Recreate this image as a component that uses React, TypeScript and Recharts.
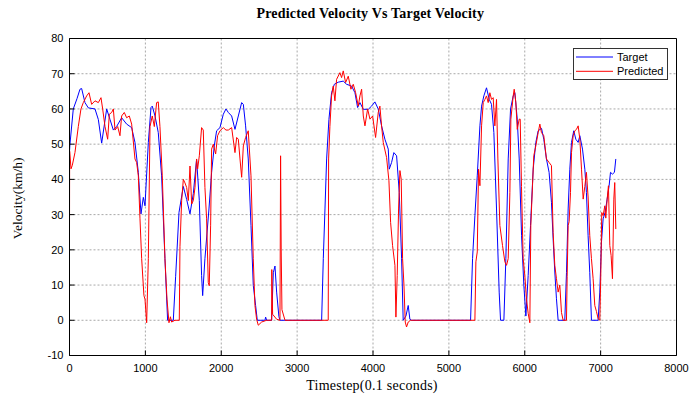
import React from 'react';
import { LineChart, Line, XAxis, YAxis, CartesianGrid, Legend } from 'recharts';

const targetT = [0, 6, 50, 100, 138, 160, 204, 248, 336, 380, 424, 490, 534, 578, 621, 687, 753, 819, 863, 907, 942, 973, 995, 1039, 1074, 1091, 1127, 1170, 1214, 1258, 1293, 1368, 1399, 1443, 1500, 1544, 1588, 1632, 1675, 1711, 1741, 1755, 1785, 1838, 1873, 1908, 1939, 1983, 2027, 2062, 2093, 2137, 2181, 2225, 2269, 2291, 2321, 2356, 2392, 2422, 2453, 2475, 2576, 2585, 2598, 2664, 2686, 2708, 2730, 2760, 2774, 3323, 3345, 3367, 3389, 3419, 3454, 3490, 3542, 3608, 3652, 3718, 3762, 3797, 3828, 3872, 3938, 3981, 4025, 4069, 4113, 4157, 4201, 4214, 4245, 4275, 4311, 4346, 4377, 4398, 4434, 4464, 4486, 4508, 5286, 5312, 5343, 5374, 5409, 5431, 5461, 5496, 5532, 5562, 5593, 5628, 5663, 5681, 5725, 5751, 5782, 5813, 5848, 5870, 5901, 5927, 5958, 5988, 6015, 6045, 6076, 6111, 6146, 6177, 6221, 6251, 6286, 6321, 6352, 6374, 6396, 6418, 6440, 6528, 6550, 6572, 6594, 6616, 6646, 6673, 6704, 6726, 6761, 6792, 6813, 6835, 6857, 6879, 6967, 6989, 7011, 7033, 7059, 7086, 7112, 7130, 7156, 7182, 7200];
const targetV = [48, 50, 60, 63, 65.6, 65.8, 61.8, 60.3, 60, 57, 50.3, 60, 57, 54, 55, 57.5, 55.7, 54.7, 50.5, 42, 30.2, 34.9, 32.5, 50.5, 60.4, 60.8, 58, 53.3, 41, 17.5, 0, 0, 12.5, 30.6, 38, 34.3, 30.2, 36, 45.7, 34, 12.7, 7, 17.5, 31.6, 42, 49.5, 53.8, 54.7, 58.5, 60, 59, 58, 54.2, 58, 61.8, 61.3, 55.2, 45.8, 26.9, 9.9, 4.2, 0, 0, 0.9, 0, 0, 13.5, 15.4, 8, 1, 0, 0, 17.5, 31.6, 45.8, 57, 64.6, 67, 67.6, 67.9, 67, 66.5, 64.6, 60.4, 61.8, 59.9, 59.9, 60.8, 62, 60, 55.2, 51.4, 48.6, 42.9, 44.8, 47.6, 46.7, 36.3, 17.5, 0, 1.2, 4.2, 0.3, 0, 0, 17.5, 29.7, 41, 55.2, 60.8, 63.7, 66, 62.7, 61.3, 53.3, 31.6, 8, 0, 0, 17.5, 45.8, 60, 63.7, 64.6, 57.1, 45.8, 24, 10, 1.2, 12.7, 26.9, 42.9, 50.5, 53.8, 54.5, 51.4, 45.8, 42, 33.5, 23.1, 13.7, 6.1, 0, 0, 13.5, 31.6, 42.9, 50.5, 53.8, 51.4, 50.5, 52.4, 48.6, 42.9, 36.3, 24, 13.5, 0, 0, 8, 22.2, 28.8, 30.6, 34.4, 38.2, 42, 41.5, 42, 45.8];

const predT = [0, 2, 20, 37, 72, 116, 151, 182, 226, 257, 292, 336, 380, 415, 437, 468, 503, 525, 556, 578, 600, 635, 665, 687, 722, 753, 788, 819, 863, 885, 907, 929, 951, 981, 995, 1017, 1039, 1061, 1091, 1118, 1148, 1170, 1192, 1223, 1258, 1285, 1311, 1330, 1346, 1390, 1447, 1456, 1478, 1500, 1522, 1544, 1566, 1588, 1610, 1632, 1654, 1675, 1689, 1711, 1741, 1763, 1785, 1807, 1829, 1842, 1860, 1873, 1895, 1926, 1952, 1983, 2027, 2062, 2093, 2137, 2181, 2203, 2225, 2247, 2269, 2291, 2321, 2356, 2392, 2422, 2444, 2466, 2488, 2532, 2598, 2664, 2666, 2677, 2730, 2774, 2782, 2790, 2800, 2840, 3410, 3415, 3432, 3454, 3476, 3498, 3520, 3564, 3586, 3608, 3639, 3674, 3709, 3740, 3771, 3806, 3828, 3850, 3872, 3894, 3929, 3960, 3995, 4034, 4069, 4091, 4113, 4135, 4179, 4210, 4232, 4258, 4289, 4302, 4319, 4337, 4355, 4372, 4390, 4408, 4425, 4442, 4464, 4495, 5343, 5356, 5374, 5391, 5409, 5431, 5453, 5475, 5496, 5518, 5540, 5562, 5584, 5606, 5628, 5646, 5672, 5707, 5738, 5760, 5782, 5804, 5817, 5848, 5861, 5883, 5901, 5927, 5940, 5957, 5979, 6001, 6023, 6045, 6067, 6080, 6102, 6119, 6146, 6177, 6199, 6220, 6251, 6286, 6321, 6352, 6374, 6396, 6418, 6440, 6462, 6484, 6506, 6550, 6559, 6572, 6585, 6603, 6616, 6638, 6660, 6682, 6704, 6726, 6748, 6770, 6792, 6813, 6835, 6857, 6879, 6901, 6923, 6945, 6967, 6989, 7002, 7015, 7033, 7055, 7068, 7086, 7103, 7121, 7138, 7156, 7174, 7186, 7200];
const predV = [25.5, 48, 43, 44, 47.6, 55, 60, 61.8, 63.7, 64.6, 61.3, 62.3, 61.8, 63.2, 60, 55, 51.4, 58.5, 59, 60, 54, 55, 52.4, 58, 59, 57.5, 58, 55.7, 45.8, 44.8, 41, 28.8, 17.5, 7, 6, -0.7, 17.5, 55, 58, 55, 61.8, 62, 55, 41, 17.5, 6, -0.7, 1, -0.5, 0, 0, 21, 34, 40, 39, 37.7, 34, 43.8, 33, 34, 37.7, 45.8, 43, 46.7, 54.7, 54, 37.7, 28.8, 10.7, 9.8, 27, 48.6, 50, 47.2, 52.4, 53.8, 54.7, 54, 54, 54.7, 47.6, 51.9, 51.4, 45.8, 40.6, 49.5, 51.9, 53.8, 41, 17.5, 4.2, 0.3, -1.4, -0.5, 0, 0, 14.4, 1.7, 0.3, 0, 46.7, 20, 3, 0, 0, 45.8, 55, 63.7, 66.5, 62.3, 68.4, 70.3, 68.9, 70.8, 67.5, 69.3, 65.6, 67, 64.6, 60.8, 63.7, 65.6, 58, 55.2, 60, 57.1, 58, 51.9, 59, 60.8, 55.2, 50.5, 46.2, 39.6, 27.8, 21.2, 15.6, 0.9, 12.7, 31.6, 42.5, 40, 17.5, 10, -0.5, -1.9, -0.5, 0, 0, 16.6, 19.4, 42.9, 38.2, 55.2, 61.8, 62.7, 63.7, 61.8, 64.6, 62.7, 63.2, 55.2, 62.7, 45.8, 26.9, 21.2, 16.6, 15.6, 17.5, 36.3, 57.1, 63.7, 65.6, 61.8, 54.2, 57.1, 57.1, 38, 17.5, 12.7, 6, 2, -0.7, 27, 38.2, 46.7, 49.5, 53.3, 55.7, 53.3, 52.4, 45.8, 44.8, 43.9, 24.9, 15.6, 11.8, 8, 10, 2.2, 0, 0, 12.5, 26.9, 28, 36.3, 47.6, 52.4, 53.8, 54.2, 55.2, 51.4, 42.9, 34.4, 38, 42, 35, 24, 17.5, 11.8, 4.2, 2.5, 0.5, 0, 12.5, 30.6, 29.7, 32.5, 29, 34.4, 38.2, 21.2, 18.4, 11.8, 34.4, 39.1, 25.9];

const xTicks = [0, 1000, 2000, 3000, 4000, 5000, 6000, 7000, 8000];
const yTicks = [-10, 0, 10, 20, 30, 40, 50, 60, 70, 80];
const legendOrder = ['Target', 'Predicted'];

const targetData = targetT.map((t, i) => ({ t, v: targetV[i] }));
const predData = predT.map((t, i) => ({ t, v: predV[i] }));

const tickFont = { fontFamily: '"Liberation Sans", Arial, sans-serif', fontSize: 11, fill: '#000' };
const serif = '"Liberation Serif", "Times New Roman", serif';

function LegendBox(props: any) {
  const payload = [...(props.payload || [])].sort(
    (a: any, b: any) => legendOrder.indexOf(a.value) - legendOrder.indexOf(b.value)
  );
  return (
    <svg width={95} height={32} style={{ display: 'block' }}>
      <rect x={0.5} y={0.5} width={94} height={31} fill="#fff" stroke="#333" strokeWidth={1} />
      {payload.map((p: any, i: number) => (
        <g key={p.value}>
          <line x1={3} x2={40} y1={9 + i * 14.3} y2={9 + i * 14.3} stroke={p.color} strokeWidth={1} />
          <text x={44} y={13.3 + i * 14} fontFamily='"Liberation Sans", Arial, sans-serif' fontSize={11} fill="#000">
            {p.value}
          </text>
        </g>
      ))}
    </svg>
  );
}

export default function App() {
  return (
    <div style={{ position: 'absolute', left: 0, top: 0, width: 689, height: 401, background: '#fff' }}>
      <LineChart width={689} height={401} margin={{ top: 37.5, right: 11.5, bottom: 0, left: 0 }}>
        <CartesianGrid stroke="#a8a8a8" strokeDasharray="2 2" strokeWidth={1} />
        <XAxis
          dataKey="t"
          type="number"
          domain={[0, 8000]}
          ticks={xTicks}
          height={45.5}
          tickSize={-5}
          tickMargin={14}
          tick={tickFont}
          axisLine={{ stroke: '#000' }}
          tickLine={{ stroke: '#000' }}
        />
        <XAxis
          xAxisId="top"
          orientation="top"
          dataKey="t"
          type="number"
          domain={[0, 8000]}
          ticks={xTicks}
          height={1}
          tickSize={-5}
          tick={false}
          axisLine={{ stroke: '#000' }}
          tickLine={{ stroke: '#000' }}
        />
        <YAxis
          type="number"
          domain={[-10, 80]}
          ticks={yTicks}
          width={69.5}
          tickSize={-5}
          tickMargin={11}
          tick={tickFont}
          axisLine={{ stroke: '#000' }}
          tickLine={{ stroke: '#000' }}
        />
        <YAxis
          yAxisId="right"
          orientation="right"
          type="number"
          domain={[-10, 80]}
          ticks={yTicks}
          width={1}
          tickSize={-5}
          tick={false}
          axisLine={{ stroke: '#000' }}
          tickLine={{ stroke: '#000' }}
        />
        <Legend
          layout="vertical"
          align="center"
          verticalAlign="middle"
          content={LegendBox}
          wrapperStyle={{ position: 'absolute', left: 572.5, top: 47.5, width: 95, height: 32 }}
        />
        <Line
          data={targetData}
          dataKey="v"
          name="Target"
          type="linear"
          stroke="#0000ff"
          strokeWidth={1}
          dot={false}
          activeDot={false}
          isAnimationActive={false}
        />
        <Line
          data={predData}
          dataKey="v"
          name="Predicted"
          type="linear"
          stroke="#ff0000"
          strokeWidth={1}
          dot={false}
          activeDot={false}
          isAnimationActive={false}
        />
      </LineChart>
      <svg width={689} height={401} style={{ position: 'absolute', left: 0, top: 0, pointerEvents: 'none' }}>
        <text x={370.3} y={17.5} textAnchor="middle" fontFamily={serif} fontWeight="bold" fontSize={14} letterSpacing={0.2} fill="#000">
          Predicted Velocity Vs Target Velocity
        </text>
        <text x={372} y={390} textAnchor="middle" fontFamily={serif} fontSize={14} letterSpacing={0.25} fill="#000">
          Timestep(0.1 seconds)
        </text>
        <text x={22.3} y={198.4} transform="rotate(-90 22.3 198.4)" textAnchor="middle" fontFamily={serif} fontSize={13.5} fill="#000">
          Velocity(km/h)
        </text>
      </svg>
    </div>
  );
}
